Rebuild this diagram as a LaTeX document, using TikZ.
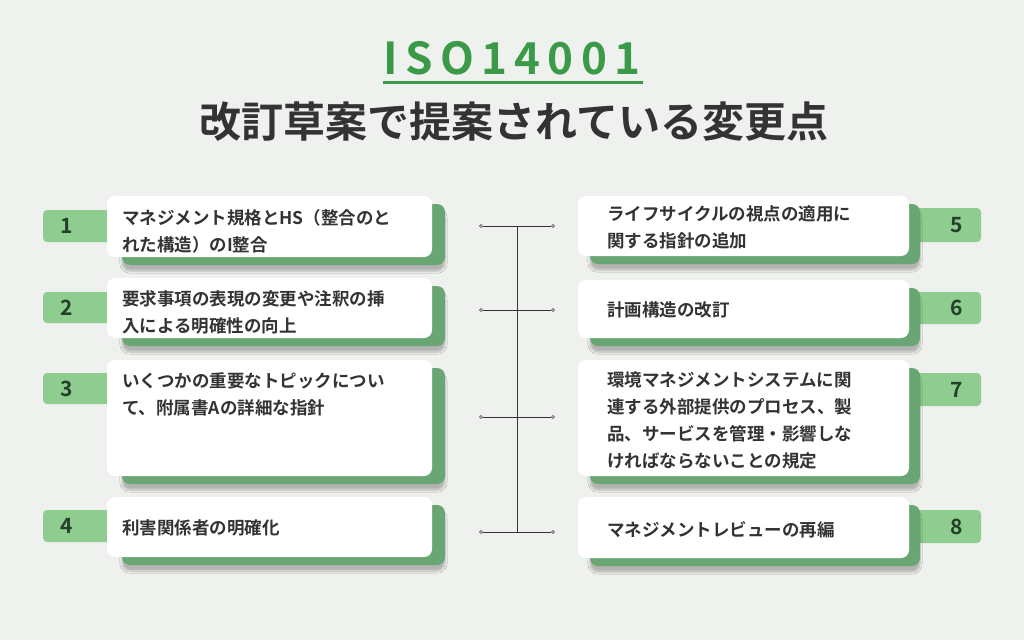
\documentclass[tikz,border=0pt]{standalone}
\usepackage{fontspec}
\setmainfont{Noto Sans CJK JP Bold}
\usetikzlibrary{shadows.blur}
\definecolor{bg}{HTML}{EFF1EE}
\definecolor{tabg}{HTML}{8FCC8F}
\definecolor{backg}{HTML}{6AA673}
\definecolor{titleg}{HTML}{3A9A48}
\definecolor{txt}{HTML}{333333}
\definecolor{numc}{HTML}{24402A}
\tikzset{x=1pt,y=-1pt,
 tabbox/.style={fill=tabg,rounded corners=4pt},
 backbox/.style={fill=backg,rounded corners=8pt,blur shadow={shadow blur steps=6,shadow xshift=0pt,shadow yshift=-6pt,shadow opacity=25}},
 cardbox/.style={fill=white,rounded corners=8pt},
 num/.style={font=\fontsize{21}{21}\selectfont,text=numc},
 ctext/.style={font=\fontsize{17.5}{27}\selectfont,text=txt,align=left,anchor=west,inner sep=0pt},
 conn/.style={draw=txt,line width=0.8pt},
 dot/.style={circle,draw=txt,fill=white,inner sep=0pt,minimum size=3pt,line width=0.5pt}}
\begin{document}
\begin{tikzpicture}
\fill[bg] (0,0) rectangle (1024,640);
\useasboundingbox (0,0) rectangle (1024,640);
\node[text=titleg,font=\fontsize{44}{44}\selectfont] (t1) at (512,58) {I\,S\,O\,1\,4\,0\,0\,1};
\draw[titleg,line width=3pt] (383,82) -- (643,82);
\node[text=txt,font=\fontsize{42}{42}\selectfont] (t2) at (514,122) {改訂草案で提案されている変更点};
\foreach \n/\a/\b/\c/\d/\ty/\t in {
 1/196/257/210/242/231/{マネジメント規格とHS（整合のと\\れた構造）のI整合},
 2/278/338/292/323/312/{要求事項の表現の変更や注釈の挿\\入による明確性の向上},
 3/360/476/373/404/394/{いくつかの重要なトピックについ\\て、附属書Aの詳細な指針},
 4/497/557/510/542/528/{利害関係者の明確化}}{
 \fill[tabbox] (43,\c) rectangle (115,\d);
 \node[num] (n\n) at (67,{(\c+\d)/2}) {\n};
 \fill[backbox] (122,\a+8) rectangle (445,\b+8);
 \fill[cardbox] (107,\a) rectangle (432,\b);
 \node[ctext] (c\n) at (122,\ty) {\t};
}
\foreach \n/\a/\b/\c/\d/\ty/\t in {
 5/196/256/208/242/227/{ライフサイクルの視点の適用に\\関する指針の追加},
 6/280/338/292/324/310/{計画構造の改訂},
 7/360/476/373/406/420/{環境マネジメントシステムに関\\連する外部提供のプロセス、製\\品、サービスを管理・影響しな\\ければならないことの規定},
 8/497/558/510/543/530/{マネジメントレビューの再編}}{
 \fill[tabbox] (900,\c) rectangle (981,\d);
 \node[num] (n\n) at (957,{(\c+\d)/2}) {\n};
 \fill[backbox] (590,\a+8) rectangle (920,\b+8);
 \fill[cardbox] (578,\a) rectangle (909,\b);
 \node[ctext] (c\n) at (607,\ty) {\t};
}
\coordinate (top) at (517,226);
\coordinate (bot) at (517,532);
\draw[conn] (top) -- (bot);
\foreach \y [count=\i] in {226,310,417,532}{
 \node[dot] (l\i) at (481,\y) {};
 \node[dot] (r\i) at (553,\y) {};
 \draw[conn] (l\i) -- (r\i);
}
\end{tikzpicture}
\end{document}
